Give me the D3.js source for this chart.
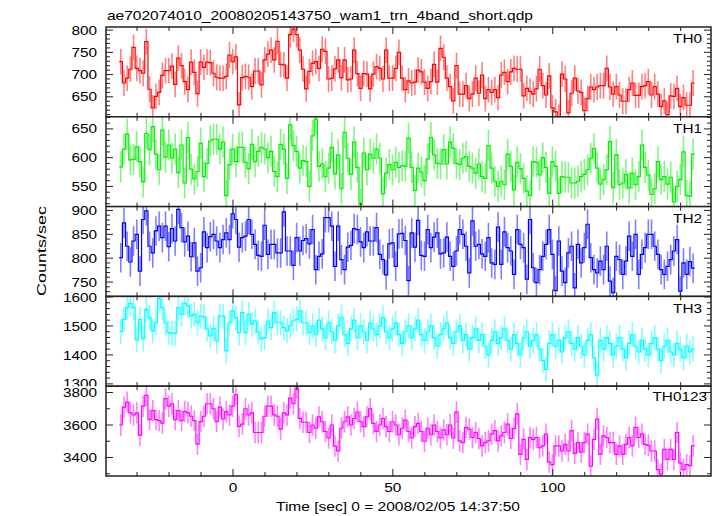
<!DOCTYPE html>
<html><head><meta charset="utf-8">
<script src="https://cdn.jsdelivr.net/npm/d3@7"></script>
<style>body{margin:0;background:#fff}svg{display:block}text{font-family:"Liberation Sans",Arial,sans-serif;fill:#000}</style>
</head><body><svg id="c" width="717" height="516"></svg>
<script>
const title = "ae702074010_20080205143750_wam1_trn_4band_short.qdp";
const xLabel = "Time [sec] 0 = 2008/02/05 14:37:50";
const yLabel = "Counts/sec";
const bandNames = ["TH0","TH1","TH2","TH3","TH0123"];
const bandColors = ["#ff0000","#00ee00","#0000ff","#00ffff","#ff00ff"];
const tFirst = -35.1;   // centre of first 1-s bin
const binWidth = 1;
const xMajorTicks = [0,50,100];
const xMinorStep = 10;

const th0 = [729,681,692,712,761,714,709,703,774,667,625,651,660,698,709,709,719,678,737,720,684,666,728,705,657,728,716,728,727,703,694,692,692,696,744,729,740,632,693,696,694,673,708,708,677,733,746,755,733,775,723,722,692,790,802,790,755,712,668,707,725,729,714,757,752,690,692,713,733,693,733,688,690,755,702,669,702,701,668,701,718,714,690,755,692,692,714,750,692,
666,686,681,683,710,706,683,669,684,723,683,759,739,692,673,641,720,656,656,675,646,656,692,658,699,646,666,660,666,648,699,705,684,706,714,712,712,652,669,662,656,668,712,675,654,697,625,616,604,701,690,614,658,692,663,660,619,646,672,666,672,675,675,714,672,656,673,654,640,640,666,681,653,653,673,675,684,654,673,656,628,641,610,652,651,669,628,648,631,631,681];
const th1 = [584,615,641,596,597,619,593,558,642,614,654,606,579,648,601,622,599,615,574,622,556,635,580,563,576,625,567,590,629,632,632,615,627,534,588,615,593,618,618,592,581,623,593,611,618,615,600,611,576,567,623,615,564,657,621,611,582,595,593,550,638,667,585,589,567,582,618,572,605,546,644,599,571,627,583,519,608,579,606,599,615,599,537,573,588,579,592,583,586,
585,634,583,543,582,575,560,598,635,605,590,589,614,589,627,616,590,588,599,602,585,582,573,589,567,564,621,582,559,550,559,553,606,585,544,592,581,564,542,534,593,592,570,600,583,538,593,585,538,567,566,566,556,556,559,567,571,579,599,616,582,554,562,579,628,548,605,553,556,571,547,573,553,567,622,583,570,536,546,593,562,567,554,566,523,550,562,610,534,533,606];
const th2 = [801,874,825,792,836,850,773,881,899,825,811,857,867,843,867,824,862,836,902,864,834,846,803,832,773,780,855,822,845,850,836,822,839,853,839,893,881,823,843,846,881,850,829,806,804,869,808,829,829,811,811,897,815,815,785,843,815,837,841,830,860,776,804,809,885,885,867,783,867,797,776,823,827,862,860,834,822,855,836,836,864,808,797,765,830,832,783,851,852,
837,753,853,823,879,806,804,860,822,844,853,809,811,844,804,783,815,860,850,825,769,878,825,829,809,804,843,790,787,865,787,855,822,815,766,860,829,822,756,881,780,749,776,804,829,860,808,732,836,773,749,811,825,738,829,790,822,871,801,776,769,794,776,825,752,728,804,797,766,794,846,804,850,766,808,822,850,850,825,808,776,766,783,797,815,839,731,790,766,793,779];
const th3 = [1480,1523,1563,1578,1563,1452,1523,1456,1557,1529,1483,1511,1594,1563,1511,1477,1475,1475,1563,1540,1578,1569,1534,1540,1511,1534,1532,1489,1466,1491,1448,1534,1534,1414,1511,1552,1529,1477,1546,1477,1540,1506,1517,1479,1454,1460,1517,1494,1546,1511,1511,1494,1483,1500,1517,1523,1552,1511,1511,1477,
1500,1470,1520,1490,1460,1510,1480,1450,1500,1530,1470,1440,1490,1520,1460,1500,1480,1450,1510,1490,
1470,1500,1530,1480,1460,1490,1510,1470,1440,1480,1500,1460,1490,1520,1470,1450,1480,1500,1460,1430,
1470,1490,1510,1460,1440,1480,1500,1450,1470,1420,1460,1490,1450,1470,1430,1400,1450,1480,1440,1460,
1490,1450,1420,1470,1440,1400,1460,1480,1430,1450,1470,1420,1380,1350,1440,1470,1430,1450,1410,1460,
1480,1440,1420,1460,1430,1400,1450,1470,1390,1330,1450,1420,1460,1440,1400,1430,1460,1420,1390,1440,
1470,1430,1410,1450,1420,1400,1440,1460,1420,1380,1430,1450,1410,1400,1440,1420,1390,1430,1410,1420];
const th0123 = [3600,3710,3741,3675,3662,3675,3538,3716,3782,3633,3689,3633,3627,3612,3762,3716,3731,3633,3689,3627,3683,3675,3654,3627,3482,3621,3654,3731,3731,3700,3621,3710,3637,3683,3662,3716,3787,3592,3606,3700,3662,3675,3554,3554,3554,3654,3716,3716,3662,3654,3575,3675,3662,3766,3731,3828,3641,3617,3617,3554,
3600,3580,3650,3620,3560,3520,3600,3470,3440,3580,3620,3650,3600,3640,3680,3620,3590,3650,3700,3610,3560,3600,3640,3590,3560,3620,3600,3540,3580,3630,3560,3520,3590,3610,3560,3500,3580,3540,3600,3560,3520,3570,3540,3600,3520,
3679,3502,3492,3585,3575,3523,3554,3517,3471,3492,3502,3544,3565,3502,3533,3554,3606,3517,3579,3669,3419,3512,3388,3523,3512,3523,3460,3471,3544,3371,3356,3471,3471,3440,3481,3440,3565,3425,3492,3433,3492,3544,3346,3512,3637,3419,3533,3523,3492,3492,3419,3471,3419,3481,3523,3471,3585,3523,3544,3481,3475,3440,3440,3325,3298,3450,3388,3450,3388,3554,3367,3325,3356,3350,3471];
const series = [th0, th1, th2, th3, th0123];
const typicalErr = [29, 27, 31, 43, 66];
const yDomains = [[605,807],[515,671],[720,908],[1292,1602],[3286,3839]];
const yMajorTicks = [[650,700,750,800],[550,600,650],[750,800,850,900],[1300,1400,1500,1600],[3400,3600,3800]];
const yMinorStep = [10,10,10,20,100];

const W=717, L=106, R=711, T0=27, PH=89.8, SX=1.18;
const svg = d3.select("#c");
const x = d3.scaleLinear().domain([-39.72,149.5]).range([L,R]);

function label(g, px, py, s, anchor, size){
  return g.append("text").attr("transform",`translate(${px},${py}) scale(${SX},1)`)
    .attr("text-anchor",anchor).attr("font-size",size||13).text(s);
}

svg.append("text").attr("x",107).attr("y",19.5).attr("font-size",13)
  .attr("textLength",426).attr("lengthAdjust","spacingAndGlyphs").text(title);

const xMinor = d3.range(-30, 150, xMinorStep).filter(v=>!xMajorTicks.includes(v));

series.forEach((vals,k)=>{
  const top = T0 + k*PH, bot = top + PH;
  const g = svg.append("g");
  g.append("rect").attr("x",0).attr("y",top).attr("width",W).attr("height",PH).attr("fill","#fff");
  const y = d3.scaleLinear().domain(yDomains[k]).range([bot, top]);
  const cid = "clip"+k;
  svg.append("clipPath").attr("id",cid).append("rect").attr("x",L).attr("y",top).attr("width",R-L).attr("height",PH);
  const col = bandColors[k];
  const data = vals.map((v,i)=>({t: tFirst + i*binWidth, v}));
  const pg = g.append("g").attr("clip-path",`url(#${cid})`);
  pg.selectAll("line.err").data(data).enter().append("line")
    .attr("x1",d=>x(d.t)).attr("x2",d=>x(d.t))
    .attr("y1",d=>y(d.v - typicalErr[k])).attr("y2",d=>y(d.v + typicalErr[k]))
    .attr("stroke",col).attr("stroke-opacity",0.5).attr("stroke-width",1.6);
  const pts = [];
  data.forEach(d=>{ pts.push([d.t - binWidth/2, d.v]); pts.push([d.t + binWidth/2, d.v]); });
  pg.append("path").attr("d", d3.line().x(p=>x(p[0])).y(p=>y(p[1]))(pts))
    .attr("fill","none").attr("stroke",col).attr("stroke-width",1.2);
  const [d0,d1] = yDomains[k];
  const ym = d3.range(Math.ceil(d0/yMinorStep[k])*yMinorStep[k], d1, yMinorStep[k]).filter(v=>!yMajorTicks[k].includes(v));
  const tk = g.append("g").attr("stroke","#222").attr("stroke-width",1);
  ym.forEach(v=>{ tk.append("line").attr("x1",L).attr("x2",L+4).attr("y1",y(v)).attr("y2",y(v));
                  tk.append("line").attr("x1",R).attr("x2",R-4).attr("y1",y(v)).attr("y2",y(v)); });
  yMajorTicks[k].forEach(v=>{ tk.append("line").attr("x1",L).attr("x2",L+7).attr("y1",y(v)).attr("y2",y(v));
                  tk.append("line").attr("x1",R).attr("x2",R-7).attr("y1",y(v)).attr("y2",y(v)); });
  xMinor.forEach(v=>{ tk.append("line").attr("x1",x(v)).attr("x2",x(v)).attr("y1",top).attr("y2",top+4);
                      tk.append("line").attr("x1",x(v)).attr("x2",x(v)).attr("y1",bot).attr("y2",bot-4); });
  xMajorTicks.forEach(v=>{ tk.append("line").attr("x1",x(v)).attr("x2",x(v)).attr("y1",top).attr("y2",top+7);
                      tk.append("line").attr("x1",x(v)).attr("x2",x(v)).attr("y1",bot).attr("y2",bot-7); });
  g.append("rect").attr("x",L).attr("y",top).attr("width",R-L).attr("height",PH)
    .attr("fill","none").attr("stroke","#222").attr("stroke-width",1.5);
  yMajorTicks[k].forEach(v=> label(g, 97, y(v)+4.6, String(v), "end"));
  label(g, k===4?707:702, top + (k===4?14.7:16.3), bandNames[k], "end");
  if(k===4){
    xMajorTicks.forEach(v=> label(g, x(v), bot+15.5, String(v), "middle"));
  }
});

svg.append("text").attr("x",276).attr("y",511).attr("font-size",13)
  .attr("textLength",244).attr("lengthAdjust","spacingAndGlyphs").text(xLabel);
svg.append("text").attr("transform","translate(46,251) rotate(-90)").attr("text-anchor","middle")
  .attr("font-size",13).attr("textLength",90).attr("lengthAdjust","spacingAndGlyphs").text(yLabel);
</script></body></html>
